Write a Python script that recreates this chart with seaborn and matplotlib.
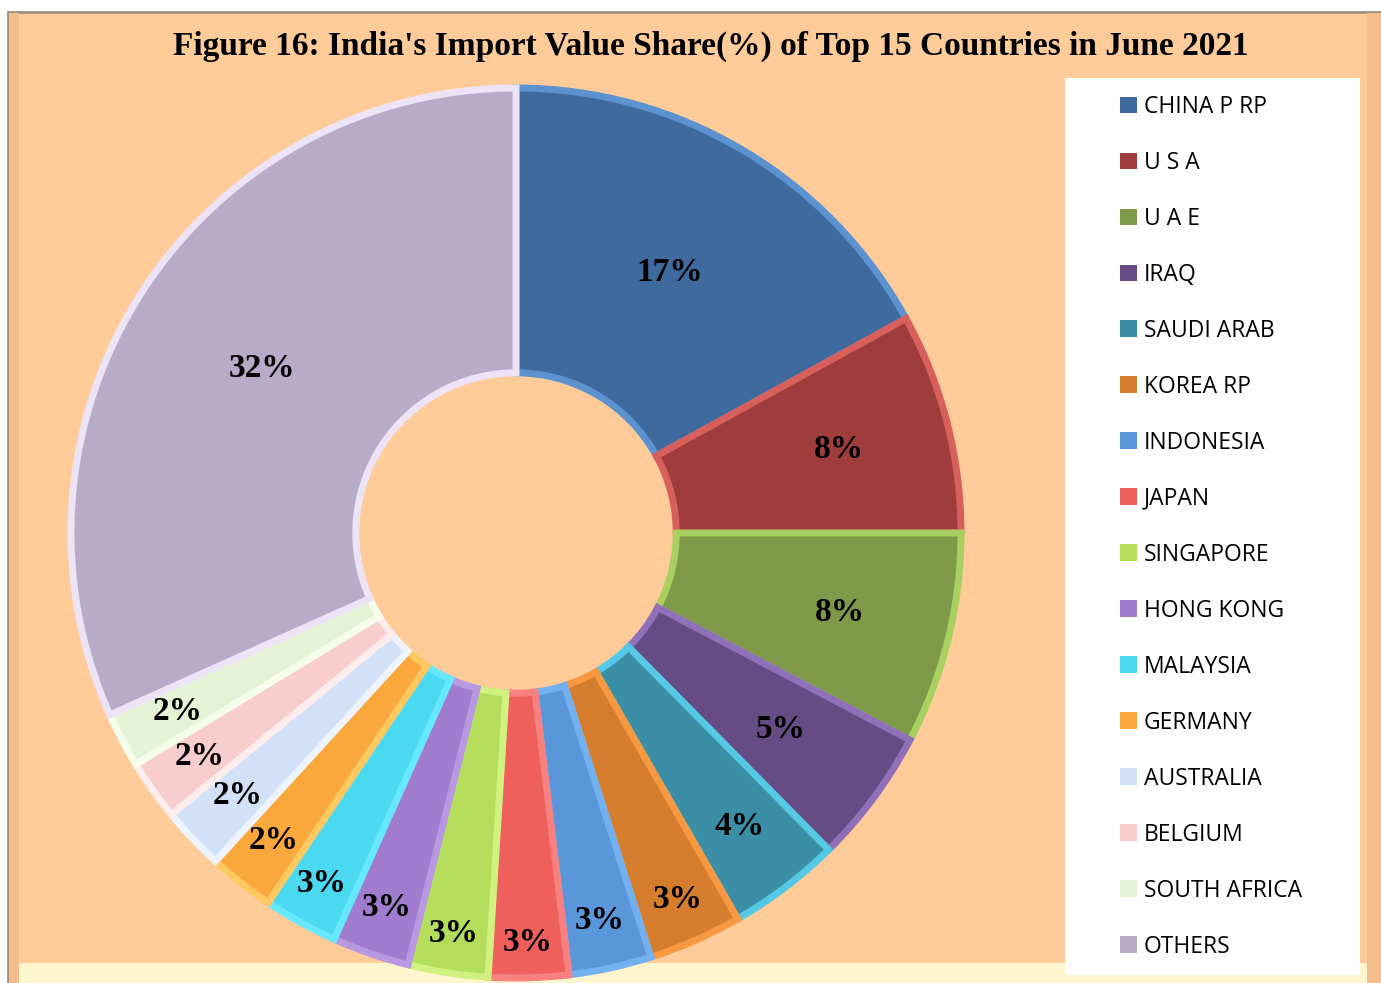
import matplotlib
matplotlib.use("Agg")
import matplotlib.pyplot as plt
from matplotlib.patches import Rectangle, Patch
import numpy as np
import seaborn as sns

#%% Dados
paises = ["CHINA P RP", "U S A", "U A E", "IRAQ", "SAUDI ARAB", "KOREA RP",
          "INDONESIA", "JAPAN", "SINGAPORE", "HONG KONG", "MALAYSIA",
          "GERMANY", "AUSTRALIA", "BELGIUM", "SOUTH AFRICA", "OTHERS"]
participacao = [17.0, 8.0, 7.7, 4.9, 4.1, 3.4, 3.0, 2.9, 2.9, 2.8, 2.7,
                2.4, 2.3, 2.2, 2.0, 31.7]

# cores (principal e borda clara)
cores = ["#3F6A9E", "#9E3D3B", "#7E9A48", "#654C85", "#3A8FA6", "#D47D2C",
         "#5A96DA", "#EF5F5B", "#B4DD5C", "#9F7CCD", "#4AD9F0", "#FAA73C",
         "#D3E1F8", "#F8CDCD", "#E6F2D6", "#B8ABC8"]
bordas = ["#5C92D0", "#D8605C", "#A8D060", "#9070B8", "#55C8E6", "#F89840",
          "#72B0F0", "#F88080", "#D0F080", "#B898E0", "#66E8FF", "#FFC860",
          "#EEF4FF", "#FFECEC", "#F6FFEC", "#ECE4F6"]
raio_rotulo = [0.68, 0.75, 0.75, 0.74, 0.83, 0.90, 0.89, 0.92, 0.91, 0.89,
               0.90, 0.88, 0.86, 0.87, 0.86, 0.68]

#%% Figura
sns.set_style("white")
plt.rcParams["font.family"] = ["Liberation Serif", "DejaVu Serif"]

fig = plt.figure(figsize=(13.81, 9.83), dpi=100)
fig.patch.set_facecolor("white")

# moldura pessego
fundo = [
    Rectangle((8/1381, 0), 1 - 8/1381, 1 - 12/983, facecolor="#FFCC99",
              edgecolor="#A09080", linewidth=2),
    Rectangle((9/1381, 0), 1 - 9/1381, 20/983, facecolor="#FFF6D0", edgecolor="none"),
    Rectangle((9/1381, 0), 10/1381, 1 - 13/983, facecolor="#F4BE8C", edgecolor="none"),
    Rectangle((1 - 14/1381, 0), 14/1381, 1 - 13/983, facecolor="#F4BE8C", edgecolor="none"),
    Rectangle((1065/1381, 1 - 975/983), 295/1381, 897/983, facecolor="white",
              edgecolor="none"),
]
for i, r in enumerate(fundo):
    r.set_transform(fig.transFigure)
    r.set_zorder(-5 + i*0.1)
    fig.patches.append(r)

fig.text(711/1381, 1 - 46/983,
         "Figure 16: India's Import Value Share(%) of Top 15 Countries in June 2021",
         ha="center", va="center", fontsize=24, fontweight="bold", color="black",
         family=["Liberation Serif", "DejaVu Serif"])

ax = fig.add_axes([(516 - 445)/1381, (983 - 533 - 445)/983, 890/1381, 890/983])
ax.set_facecolor("none")
ax.set_zorder(2)

wedges, _ = ax.pie(participacao, colors=cores, startangle=90, counterclock=False,
                   radius=1.0, wedgeprops=dict(width=0.64, linewidth=5))
for w, b in zip(wedges, bordas):
    w.set_edgecolor(b)

for w, v, r in zip(wedges, participacao, raio_rotulo):
    ang = np.deg2rad((w.theta1 + w.theta2) / 2)
    ax.text(r*np.cos(ang), r*np.sin(ang), f"{v:.0f}%", ha="center", va="center",
            fontsize=24, fontweight="bold", color="black",
            family=["Liberation Serif", "DejaVu Serif"])

ax.set_xlim(-1, 1)
ax.set_ylim(-1, 1)
ax.set_aspect("equal")
ax.axis("off")

handles = [Patch(facecolor=c, edgecolor="none") for c in cores]
leg = fig.legend(handles, paises, loc="upper left",
                 bbox_to_anchor=(1120/1381, 1 - 95/983), frameon=False,
                 handlelength=0.75, handleheight=0.75, handletextpad=0.3,
                 labelspacing=1.395, borderpad=0, borderaxespad=0,
                 prop={"family": ["Open Sans", "DejaVu Sans"], "size": 16.5})
for t in leg.get_texts():
    t.set_color("black")
leg.set_zorder(5)

fig.savefig("out.png", dpi=100, facecolor=fig.get_facecolor())
